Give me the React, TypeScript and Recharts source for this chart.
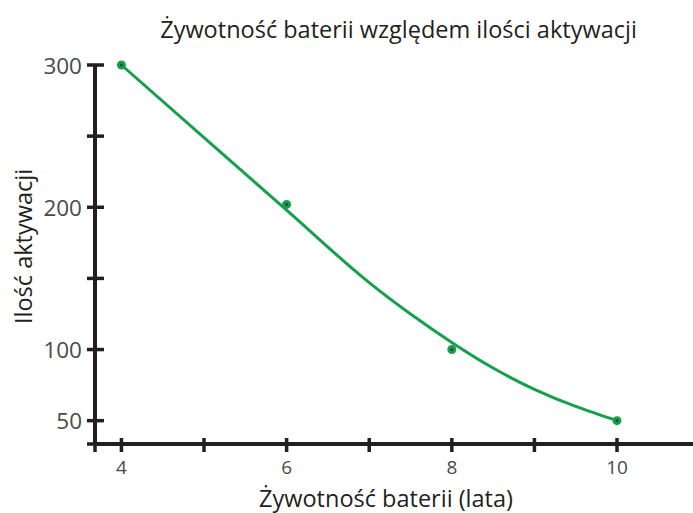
import { LineChart, Line, XAxis, YAxis, Label } from 'recharts';

// smooth trend
const trendYears = [4, 5, 6, 6.5, 7, 7.5, 8, 8.5, 9, 9.5, 10];
const trendValues = [300, 249, 198, 172, 147, 125, 105, 87, 72, 60, 50];

// measured points
const pointYears = [4, 6, 8, 10];
const pointValues = [300, 202, 100, 50];

const xTicks = [3.68, 4, 5, 6, 7, 8, 9, 10];
const xTickLabels = ['', '4', '', '6', '', '8', '', '10'];
const yTicks = [33.6, 50, 100, 150, 200, 250, 300];
const yTickLabels = ['', '50', '100', '', '200', '', '300'];

const title = 'Żywotność baterii względem ilości aktywacji';
const xTitle = 'Żywotność baterii (lata)';
const yTitle = 'Ilość aktywacji';

const AXIS = '#231f20';
const GREEN = '#14a14b';
const FONT = "'Open Sans', sans-serif";
const AXIS_X = 95;
const AXIS_Y = 444;

const trendData = trendYears.map((year, i) => ({ year, value: trendValues[i] }));
const pointData = pointYears.map((year, i) => ({ year, value: pointValues[i] }));

const XTick = ({ payload }: any) => {
  const i = xTicks.indexOf(payload.value);
  const x = payload.coordinate;
  return (
    <g>
      <line x1={x} x2={x} y1={AXIS_Y - 6} y2={AXIS_Y + 8} stroke={AXIS} strokeWidth={3.5} />
      <text x={x} y={AXIS_Y + 23} textAnchor="middle" dominantBaseline="central"
        fontFamily={FONT} fontSize={19} fill="#4a4a4a">
        {xTickLabels[i]}
      </text>
    </g>
  );
};

const YTick = ({ payload }: any) => {
  const i = yTicks.indexOf(payload.value);
  const y = payload.coordinate;
  return (
    <g>
      <line x1={AXIS_X - 8} x2={AXIS_X + 9} y1={y} y2={y} stroke={AXIS} strokeWidth={3.5} />
      <text x={AXIS_X - 13} y={y} textAnchor="end" dominantBaseline="central"
        fontFamily={FONT} fontSize={22.5} fill="#4a4a4a">
        {yTickLabels[i]}
      </text>
    </g>
  );
};

const YTitle = ({ viewBox }: any) => {
  const x = 23;
  const y = viewBox.y + viewBox.height / 2 - 8;
  return (
    <text x={x} y={y} transform={`rotate(-90 ${x} ${y})`} textAnchor="middle" dominantBaseline="central"
      fontFamily={FONT} fontSize={23.5} fill="#231f20">
      {yTitle}
    </text>
  );
};

const PointDot = ({ cx, cy }: any) => (
  <g>
    <circle cx={cx} cy={cy} r={4.5} fill={GREEN} />
    <circle cx={cx} cy={cy} r={1.6} fill="#33423a" />
  </g>
);

export default function App() {
  return (
    <div style={{ position: 'absolute', left: 0, top: 0, width: 693, height: 513, background: '#fff' }}>
      <div
        style={{
          position: 'absolute', left: 0, width: 797, top: 13, textAlign: 'center',
          fontFamily: FONT, fontSize: 23.5, color: '#231f20', whiteSpace: 'nowrap',
        }}
      >
        {title}
      </div>
      <LineChart width={693} height={513} margin={{ top: 65, right: 0, bottom: 0, left: 0 }}>
        <XAxis
          dataKey="year"
          type="number"
          domain={[3.68, 10.92]}
          ticks={xTicks}
          interval={0}
          height={69}
          axisLine={{ stroke: AXIS, strokeWidth: 4 }}
          tickLine={false}
          tick={<XTick />}
        >
          <Label
            value={xTitle}
            position="insideBottom"
            offset={6}
            dx={-8}
            style={{ fontFamily: FONT, fontSize: 23.5, fill: '#231f20' }}
          />
        </XAxis>
        <YAxis
          dataKey="value"
          type="number"
          domain={[33.6, 300]}
          ticks={yTicks}
          interval={0}
          width={95}
          axisLine={{ stroke: AXIS, strokeWidth: 4 }}
          tickLine={false}
          tick={<YTick />}
        >
          <Label content={<YTitle />} />
        </YAxis>
        <Line
          data={trendData}
          dataKey="value"
          type="natural"
          stroke={GREEN}
          strokeWidth={3}
          dot={false}
          activeDot={false}
          isAnimationActive={false}
        />
        <Line
          data={pointData}
          dataKey="value"
          stroke="none"
          dot={<PointDot />}
          activeDot={false}
          isAnimationActive={false}
        />
      </LineChart>
    </div>
  );
}
